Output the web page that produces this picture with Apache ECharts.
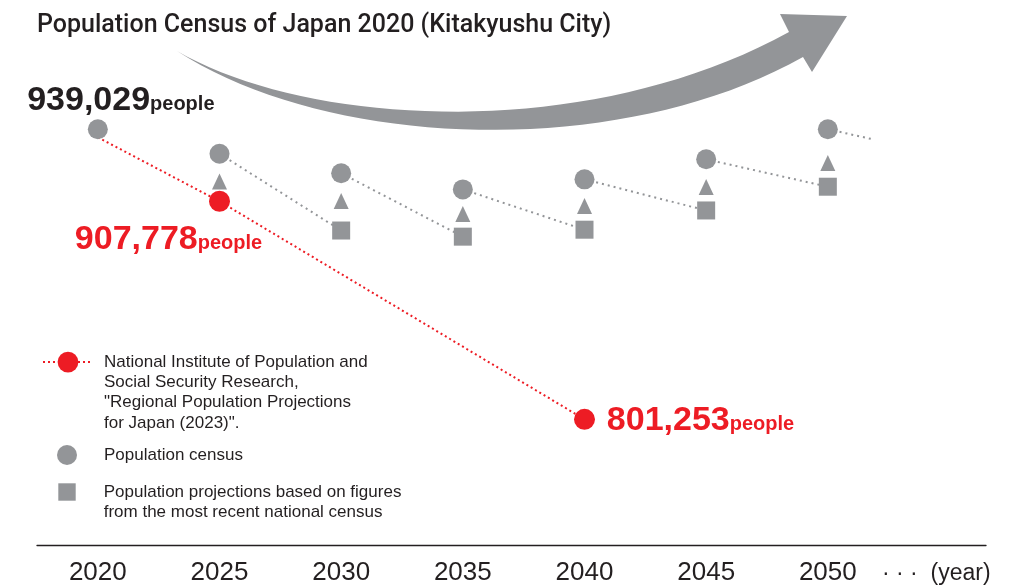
<!DOCTYPE html>
<html>
<head>
<meta charset="utf-8">
<title>Population Census of Japan 2020 (Kitakyushu City)</title>
<script src="https://cdn.jsdelivr.net/npm/echarts@6/dist/echarts.min.js"></script>
<style>
  html, body { margin: 0; padding: 0; background: #fff; }
  #chart { width: 1020px; height: 585px; }
</style>
</head>
<body>
<div id="chart"></div>
<script>
// axis years and the trailing label
const years = [2020, 2025, 2030, 2035, 2040, 2045, 2050]
const tailLabel = '· · ·  (year)'

// census 2020 figure
const census2020 = 939029

// IPSS regional projection (red)
const ipssYears = [2020, 2025, 2040]
const ipssValues = [census2020, 907778, 801253]

// census circles, one per year (heights)
const censusValues = [943000, 931000, 921500, 913600, 918500, 928300, 943000]
// small triangles under the circles, 2025..2050
const triangleYears = [2025, 2030, 2035, 2040, 2045, 2050]
const triangleValues = [917500, 907900, 901600, 905500, 914800, 926500]
// projection squares, 2030..2050
const projYears = [2030, 2035, 2040, 2045, 2050]
const projValues = [893500, 890500, 893900, 903300, 914900]
// last dotted line runs off toward the next projection
const tailPoint = [2051.8, 938200]

const ipssName = 'National Institute of Population and\nSocial Security Research,\n"Regional Population Projections\nfor Japan (2023)".'
const censusName = 'Population census'
const projName = 'Population projections based on figures\nfrom the most recent national census'

const red = '#ed1c24'
const gray = '#939598'
const dark = '#231f20'

const fmt = (v) => v.toLocaleString('en-US')

function bigLabel(color, offset, value) {
  return {
    show: true,
    position: 'inside',
    offset: offset,
    formatter: (p) => '{n|' + fmt(value != null ? value : p.value[1]) + '}{p|people}',
    rich: {
      n: { fontSize: 34, fontWeight: 'bold', color: color, lineHeight: 34, verticalAlign: 'bottom', fontFamily: 'Liberation Sans' },
      p: { fontSize: 20, fontWeight: 'bold', color: color, lineHeight: 20, verticalAlign: 'bottom', padding: [0, 0, 3, 0], fontFamily: 'Liberation Sans' },
    },
  }
}

// sample a cubic bezier into points (for the decorative arrow)
function cubic(p0, p1, p2, p3, n) {
  const pts = []
  for (let i = 0; i <= n; i++) {
    const t = i / n, u = 1 - t
    pts.push([
      u * u * u * p0[0] + 3 * u * u * t * p1[0] + 3 * u * t * t * p2[0] + t * t * t * p3[0],
      u * u * u * p0[1] + 3 * u * u * t * p1[1] + 3 * u * t * t * p2[1] + t * t * t * p3[1],
    ])
  }
  return pts
}
const arrowPoints = [].concat(
  cubic([177, 51], [310, 128], [590, 142], [789, 32], 40),
  [[780, 14], [847, 16], [812, 72]],
  cubic([803, 57], [620, 160], [330, 150], [177, 51], 40)
)

// dotted links: census circle -> next projection square
const links = []
for (let i = 1; i < years.length - 1; i++) {
  links.push([[years[i], censusValues[i]], [projYears[i - 1], projValues[i - 1]]])
}
links.push([[years[years.length - 1], censusValues[years.length - 1]], tailPoint])

const ipssData = ipssYears.map((y, i) => ({ value: [y, ipssValues[i]] }))
ipssData[0].symbol = 'none'
ipssData[1].label = bigLabel(red, [-51, 38.6])
ipssData[2].label = bigLabel(red, [116, 1])

const censusData = years.map((y, i) => ({ value: [y, censusValues[i]] }))
censusData[0].label = bigLabel(dark, [23, -29], census2020)

const myChart = echarts.init(document.getElementById('chart'))
const option = {
  animation: false,
  textStyle: { fontFamily: 'Liberation Sans' },
  title: {
    text: 'Population Census of Japan 2020 (Kitakyushu City)',
    left: 37,
    top: 13,
    padding: 0,
    textStyle: { fontSize: 25, fontWeight: 500, color: dark, fontFamily: 'Roboto' },
  },
  graphic: [
    { type: 'polygon', shape: { points: arrowPoints }, style: { fill: gray }, silent: true, z: 0 },
  ],
  legend: [
    {
      data: [ipssName], left: 42, top: 291, padding: 0, selectedMode: false,
      itemWidth: 50, itemHeight: 26,
      formatter: (n) => '\n\n\n' + n,
      textStyle: { fontSize: 17, lineHeight: 20.3, color: dark, padding: [0, 0, 0, 6] },
    },
    {
      data: [censusName], left: 57, top: 445, padding: 0, selectedMode: false,
      itemWidth: 20, itemHeight: 20, icon: 'circle',
      textStyle: { fontSize: 17, lineHeight: 20, color: dark, padding: [0, 0, 0, 22] },
    },
    {
      data: [projName], left: 58.3, top: 462, padding: 0, selectedMode: false,
      itemWidth: 17.4, itemHeight: 17.4, icon: 'rect',
      formatter: (n) => '\n' + n,
      textStyle: { fontSize: 17, lineHeight: 20, color: dark, padding: [0, 0, 0, 23] },
    },
  ],
  grid: { left: 37, right: 34, top: 60, bottom: 40, containLabel: false, outerBoundsMode: 'none' },
  xAxis: {
    type: 'value',
    min: 2017.5,
    max: 2056.5,
    splitLine: { show: false },
    axisTick: { show: false },
    axisLine: { show: true, onZero: false, lineStyle: { color: dark, width: 1.3 } },
    axisLabel: {
      customValues: years,
      formatter: (v) => String(v),
      color: dark,
      fontSize: 26,
      margin: 15,
    },
    name: tailLabel,
    nameLocation: 'end',
    nameGap: -104,
    nameTextStyle: { color: dark, fontSize: 23, align: 'left', verticalAlign: 'top', padding: [17, 0, 0, 0] },
  },
  yAxis: { type: 'value', min: 739831, max: 976821, show: false },
  series: [
    ...links.map((seg) => ({
      type: 'line', data: seg, symbol: 'none', silent: true, z: 1,
      lineStyle: { color: gray, width: 2, type: [2, 4] },
    })),
    {
      name: ipssName, type: 'line', z: 3,
      data: ipssData,
      symbol: 'circle', symbolSize: 21,
      itemStyle: { color: red },
      lineStyle: { color: red, width: 2, type: [2, 3] },
    },
    {
      name: censusName, type: 'scatter', z: 4,
      data: censusData, symbol: 'circle', symbolSize: 20,
      itemStyle: { color: gray, opacity: 1 },
    },
    {
      type: 'scatter', z: 4,
      data: triangleYears.map((y, i) => [y, triangleValues[i]]),
      symbol: 'triangle', symbolSize: [15, 16],
      itemStyle: { color: gray, opacity: 1 },
    },
    {
      name: projName, type: 'scatter', z: 4,
      data: projYears.map((y, i) => [y, projValues[i]]),
      symbol: 'rect', symbolSize: 18,
      itemStyle: { color: gray, opacity: 1 },
    },
  ],
}
myChart.setOption(option)
</script>
</body>
</html>
